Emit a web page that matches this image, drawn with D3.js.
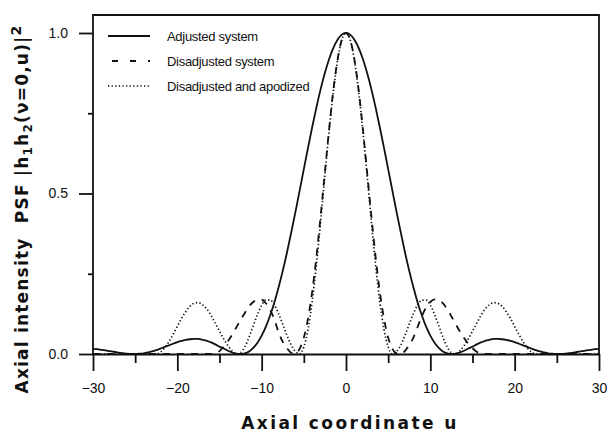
<!DOCTYPE html>
<html lang="en">
<head>
<meta charset="UTF-8">
<title>Axial intensity PSF</title>
<script src="https://d3js.org/d3.v7.min.js"></script>
<style>
  body { margin: 0; background: #fff; }
  .tick text { font-family: "Liberation Sans", Arial, sans-serif; font-size: 14px; fill: #111; }
  .tick line, .domain { stroke: #111; stroke-width: 1.8; }
  .axis-title { font-family: "DejaVu Sans", sans-serif; font-weight: bold; fill: #111; white-space: pre; }
  .legend text { font-family: "Liberation Sans Narrow", "Liberation Sans", Arial, sans-serif; font-size: 13px; fill: #111; }
</style>
</head>
<body>
<svg id="chart" width="608" height="435"></svg>
<script>
  // axial coordinate grid, -30 .. 30 in steps of 0.5
  const u = d3.range(-30, 30.001, 0.5);

  const adjusted = [
    0.016, 0.015, 0.013, 0.011, 0.009, 0.007, 0.004, 0.003, 0.001, 0.000,
    0.000, 0.001, 0.002, 0.005, 0.008, 0.012, 0.017, 0.022, 0.027, 0.032,
    0.037, 0.041, 0.044, 0.046, 0.047, 0.047, 0.044, 0.041, 0.036, 0.030,
    0.023, 0.017, 0.010, 0.005, 0.001, 0.000, 0.002, 0.008, 0.019, 0.035,
    0.057, 0.085, 0.120, 0.160, 0.207, 0.259, 0.316, 0.378, 0.442, 0.509,
    0.576, 0.643, 0.708, 0.769, 0.826, 0.876, 0.919, 0.954, 0.979, 0.995,
    1.000,
    0.995, 0.979, 0.954, 0.919, 0.876, 0.826, 0.769, 0.708, 0.643, 0.576,
    0.509, 0.442, 0.378, 0.316, 0.259, 0.207, 0.160, 0.120, 0.085, 0.057,
    0.035, 0.019, 0.008, 0.002, 0.000, 0.001, 0.005, 0.010, 0.017, 0.023,
    0.030, 0.036, 0.041, 0.044, 0.047, 0.047, 0.046, 0.044, 0.041, 0.037,
    0.032, 0.027, 0.022, 0.017, 0.012, 0.008, 0.005, 0.002, 0.001, 0.000,
    0.000, 0.001, 0.003, 0.004, 0.007, 0.009, 0.011, 0.013, 0.015, 0.016
  ];

  const disadjusted = [
    0, 0, 0, 0, 0, 0, 0, 0, 0, 0,
    0, 0, 0, 0, 0, 0, 0, 0, 0, 0,
    0, 0, 0, 0, 0, 0, 0, 0, 0, 0.002,
    0.009, 0.023, 0.040, 0.060, 0.083, 0.106, 0.128, 0.148, 0.162, 0.169,
    0.169, 0.158, 0.138, 0.108, 0.068, 0.038, 0.018, 0.004, 0.001, 0.016,
    0.051, 0.111, 0.196, 0.305, 0.432, 0.567, 0.701, 0.822, 0.917, 0.979,
    1.000,
    0.979, 0.917, 0.822, 0.701, 0.567, 0.432, 0.305, 0.196, 0.111, 0.051,
    0.016, 0.002, 0.000, 0.010, 0.028, 0.052, 0.085, 0.118, 0.145, 0.162,
    0.170, 0.168, 0.158, 0.140, 0.117, 0.094, 0.070, 0.050, 0.032, 0.018,
    0.007, 0.001, 0, 0, 0, 0, 0, 0, 0, 0,
    0, 0, 0, 0, 0, 0, 0, 0, 0, 0,
    0, 0, 0, 0, 0, 0, 0, 0, 0, 0
  ];

  const apodized = [
    0, 0, 0, 0, 0, 0, 0, 0, 0, 0,
    0, 0, 0, 0, 0, 0.000, 0.006, 0.019, 0.038, 0.061,
    0.086, 0.111, 0.132, 0.149, 0.158, 0.160, 0.153, 0.140, 0.120, 0.096,
    0.071, 0.047, 0.026, 0.010, 0.000, 0.004, 0.022, 0.052, 0.088, 0.123,
    0.152, 0.168, 0.168, 0.153, 0.126, 0.093, 0.058, 0.028, 0.008, 0.000,
    0.022, 0.077, 0.165, 0.280, 0.415, 0.558, 0.695, 0.818, 0.915, 0.978,
    1.000,
    0.978, 0.915, 0.818, 0.695, 0.558, 0.415, 0.280, 0.165, 0.077, 0.022,
    0.000, 0.008, 0.028, 0.058, 0.093, 0.126, 0.153, 0.168, 0.168, 0.152,
    0.123, 0.088, 0.052, 0.022, 0.004, 0.000, 0.010, 0.026, 0.047, 0.071,
    0.096, 0.120, 0.140, 0.153, 0.160, 0.158, 0.149, 0.132, 0.111, 0.086,
    0.061, 0.038, 0.019, 0.006, 0.000, 0, 0, 0, 0, 0,
    0, 0, 0, 0, 0, 0, 0, 0, 0, 0
  ];

  const xTicks = [-30, -20, -10, 0, 10, 20, 30];
  const xMinor = [-25, -15, -5, 5, 15, 25];
  const yTicks = [0, 0.5, 1];
  const yMinor = [0.25, 0.75];
  const legendLabels = ["Adjusted system", "Disadjusted system", "Disadjusted and apodized"];

  const svg = d3.select("#chart");
  const x = d3.scaleLinear().domain([-30, 30]).range([93, 599]);
  const y = d3.scaleLinear().domain([0, 1]).range([354, 33]);

  // frame (left, top, right)
  svg.append("path")
    .attr("d", `M${x(-30)},${y(0)}V15H${x(30)}V${y(0)}`)
    .attr("fill", "none")
    .attr("stroke", "#111")
    .attr("stroke-width", 1.8);

  // x axis
  svg.append("g")
    .attr("transform", `translate(0,${y(0)})`)
    .call(d3.axisBottom(x).tickValues(xTicks).tickSize(17).tickSizeOuter(0).tickPadding(12));
  svg.append("g")
    .attr("transform", `translate(0,${y(0)})`)
    .call(d3.axisBottom(x).tickValues(xMinor).tickSize(9).tickFormat(""))
    .call(g => g.select(".domain").remove());

  // y axis
  svg.append("g")
    .attr("transform", `translate(${x(-30)},0)`)
    .call(d3.axisLeft(y).tickValues(yTicks).tickSize(14).tickSizeOuter(0).tickPadding(11).tickFormat(d3.format(".1f")))
    .call(g => g.select(".domain").remove());
  svg.append("g")
    .attr("transform", `translate(${x(-30)},0)`)
    .call(d3.axisLeft(y).tickValues(yMinor).tickSize(5).tickFormat(""))
    .call(g => g.select(".domain").remove());

  const line = d3.line()
    .x((d, i) => x(u[i]))
    .y(d => y(d))
    .curve(d3.curveMonotoneX);

  const series = [
    { values: apodized, dash: "1.3,2.3", width: 1.7 },
    { values: disadjusted, dash: "7,7", width: 1.8 },
    { values: adjusted, dash: null, width: 1.8 }
  ];

  series.forEach(s => {
    svg.append("path")
      .datum(s.values)
      .attr("d", line)
      .attr("fill", "none")
      .attr("stroke", "#111")
      .attr("stroke-width", s.width)
      .attr("stroke-dasharray", s.dash);
  });

  // legend
  const legendStyles = [
    { dash: null, x1: 108, width: 1.8 },
    { dash: "6,12", x1: 112, width: 1.8 },
    { dash: "1.3,2.3", x1: 108, width: 1.7 }
  ];
  const legend = svg.append("g").attr("class", "legend");
  legendLabels.forEach((label, i) => {
    const ly = 36 + i * 25;
    legend.append("line")
      .attr("x1", legendStyles[i].x1).attr("x2", 150)
      .attr("y1", ly).attr("y2", ly)
      .attr("stroke", "#111")
      .attr("stroke-width", legendStyles[i].width)
      .attr("stroke-dasharray", legendStyles[i].dash);
    legend.append("text")
      .attr("x", 167).attr("y", ly)
      .attr("dy", "0.35em")
      .attr("letter-spacing", "-0.3")
      .text(label);
  });

  // axis titles
  svg.append("text")
    .attr("class", "axis-title")
    .attr("x", 350).attr("y", 429)
    .attr("text-anchor", "middle")
    .attr("font-size", 17)
    .attr("letter-spacing", 2.4)
    .text("Axial coordinate u");

  const yt = svg.append("text")
    .attr("class", "axis-title")
    .attr("transform", "translate(28,209) rotate(-90)")
    .attr("text-anchor", "middle")
    .attr("font-size", 17)
    .attr("letter-spacing", 1.2);
  yt.append("tspan").text("Axial intensity  PSF |h");
  yt.append("tspan").attr("dy", 4).attr("font-size", 12).text("1");
  yt.append("tspan").attr("dy", -4).text("h");
  yt.append("tspan").attr("dy", 4).attr("font-size", 12).text("2");
  yt.append("tspan").attr("dy", -4).text("(ν=0,u)|");
  yt.append("tspan").attr("dy", -7).attr("font-size", 14).text("2");
</script>
</body>
</html>
